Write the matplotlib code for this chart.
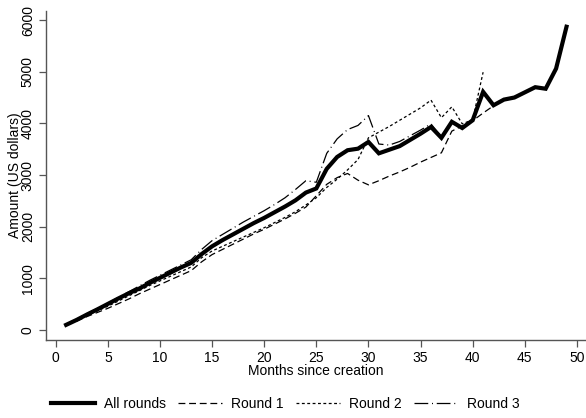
import numpy as np
import matplotlib.pyplot as plt

plt.rcParams['font.family'] = ['Liberation Sans', 'DejaVu Sans']

# ----------------------------
# Data
# ----------------------------
months_all = list(range(1, 50))
amount_all = [100, 195, 300, 400, 505, 610, 710, 800, 910, 1010,
              1110, 1210, 1300, 1470, 1620, 1740, 1850, 1960, 2070, 2170,
              2280, 2390, 2510, 2660, 2740, 3120, 3350, 3480, 3510, 3640,
              3420, 3490, 3560, 3680, 3800, 3930, 3720, 4030, 3910, 4060,
              4610, 4350, 4460, 4500, 4600, 4700, 4670, 5060, 5870]

months_r1 = list(range(1, 43))
amount_r1 = [90, 170, 260, 340, 420, 510, 600, 700, 790, 880,
             970, 1060, 1150, 1320, 1460, 1560, 1660, 1760, 1860, 1950,
             2050, 2150, 2260, 2380, 2600, 2820, 2950, 3030, 2900, 2810,
             2890, 2980, 3060, 3150, 3250, 3340, 3430, 3850, 3950, 4050,
             4200, 4340]

months_r2 = list(range(1, 42))
amount_r2 = [100, 190, 280, 370, 460, 560, 660, 760, 860, 950,
             1040, 1130, 1220, 1400, 1530, 1620, 1710, 1800, 1890, 1980,
             2080, 2180, 2290, 2420, 2560, 2760, 2920, 3100, 3300, 3720,
             3830, 3940, 4060, 4180, 4300, 4450, 4110, 4320, 3990, 4070,
             4990]

months_r3 = list(range(1, 41))
amount_r3 = [110, 210, 320, 420, 520, 630, 740, 850, 960, 1060,
             1160, 1260, 1360, 1560, 1730, 1850, 1970, 2090, 2200, 2310,
             2430, 2560, 2720, 2890, 2860, 3420, 3700, 3880, 3960, 4150,
             3600, 3580, 3650, 3760, 3870, 3990, 3740, 4040, 3930, 4080]

x_ticks = list(range(0, 51, 5))
y_ticks = list(range(0, 6001, 1000))

# ----------------------------
# Figure
# ----------------------------
fig = plt.figure(figsize=(5.86, 4.18), dpi=100)
ax = fig.add_axes([0.0785, 0.1866, 0.9215, 0.787])

ax.plot(months_all, amount_all, color='black', lw=3.0, label='All rounds',
        solid_joinstyle='miter')
ax.plot(months_r1, amount_r1, color='black', lw=0.9, linestyle=(0, (5.5, 3.0)),
        label='Round 1')
ax.plot(months_r2, amount_r2, color='black', lw=0.9, linestyle=(0, (2.3, 2.0)),
        label='Round 2')
ax.plot(months_r3, amount_r3, color='black', lw=0.9,
        linestyle=(0, (11.0, 3.0, 0.8, 3.0)), label='Round 3')

ax.set_xlim(-0.93, 50.87)
ax.set_ylim(-193, 6174)
ax.set_xticks(x_ticks)
ax.set_yticks(y_ticks)
ax.set_yticklabels([str(v) for v in y_ticks], rotation=90, va='center')

for side in ['top', 'right']:
    ax.spines[side].set_visible(False)
for side in ['left', 'bottom']:
    ax.spines[side].set_color('#555555')
    ax.spines[side].set_linewidth(1.0)
ax.tick_params(direction='out', length=5, width=0.9, color='#555555',
               labelsize=10, pad=3)

fig.text(15 / 586, 1 - 175 / 418, 'Amount (US dollars)', rotation=90,
         ha='center', va='center', fontsize=10)
fig.text(316 / 586, 1 - 371 / 418, 'Months since creation',
         ha='center', va='center', fontsize=10)

fig.legend(loc='center', bbox_to_anchor=(285 / 586, 1 - 404 / 418), ncol=4,
           frameon=False, fontsize=10, handlelength=3.2, handletextpad=0.6,
           columnspacing=0.9, borderaxespad=0)

fig.savefig('out.png', dpi=100)
